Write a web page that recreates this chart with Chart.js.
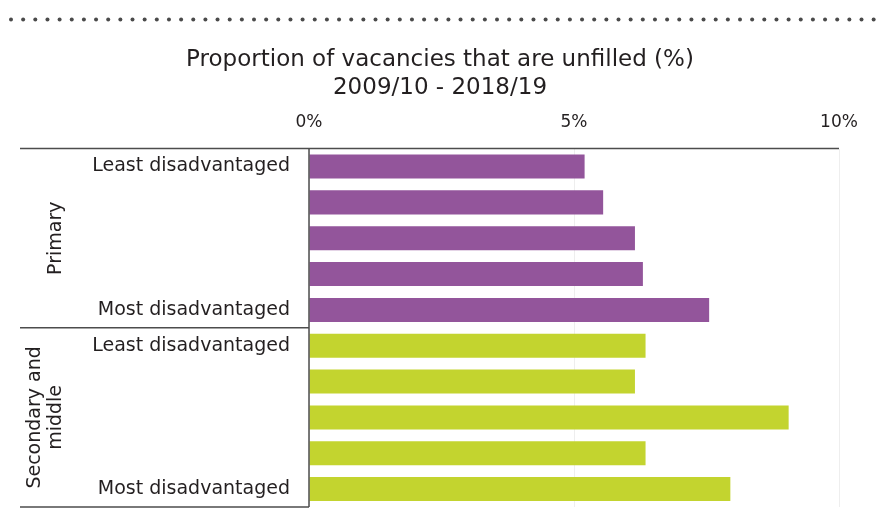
<!DOCTYPE html>
<html>
<head>
<meta charset="utf-8">
<script src="https://cdn.jsdelivr.net/npm/chart.js@4.4.1/dist/chart.umd.min.js"></script>
<style>
  html, body { margin: 0; padding: 0; background: #ffffff; }
  #wrap { width: 880px; height: 509px; }
</style>
</head>
<body>
<div id="wrap"><canvas id="vacancyChart" width="880" height="509"></canvas></div>
<script>
// school phase groups, top to bottom
const groups = ['Primary', ['Secondary and', 'middle']];
const groupColors = ['#93559b', '#c3d42f'];

// deprivation quintile labels (only the ends are labelled)
const quintiles = ['Least disadvantaged', '', '', '', 'Most disadvantaged'];

// proportion of vacancies unfilled (%), 2009/10 - 2018/19
const primaryValues = [5.2, 5.55, 6.15, 6.3, 7.55];
const secondaryValues = [6.35, 6.15, 9.05, 6.35, 7.95];

const xTicks = [0, 5, 10];

const labels = quintiles.concat(quintiles);
const values = primaryValues.concat(secondaryValues);
const colors = primaryValues.map(() => groupColors[0])
    .concat(secondaryValues.map(() => groupColors[1]));

const textColor = '#231f20';
const lineColor = '#4d4d4d';
const fontName = '"DejaVu Sans"';

// dotted rule, frame lines and rotated group names
const decorations = {
    id: 'decorations',
    beforeDraw(chart) {
        const c = chart.ctx;
        c.save();
        c.fillStyle = '#4a4a4a';
        for (let x = 11; x < 876; x += 12.15) {
            c.beginPath();
            c.arc(x, 19.5, 2, 0, Math.PI * 2);
            c.fill();
        }
        c.restore();
    },
    afterDraw(chart) {
        const c = chart.ctx;
        const area = chart.chartArea;
        const y = chart.scales.y;
        const left = 20;
        const top = area.top;
        const bottom = area.bottom;
        const split = (y.getPixelForValue(4) + y.getPixelForValue(5)) / 2;

        c.save();
        c.strokeStyle = lineColor;
        c.lineWidth = 1.5;
        c.beginPath();
        c.moveTo(left, top); c.lineTo(area.right, top);
        c.moveTo(left, split); c.lineTo(area.left, split);
        c.moveTo(left, bottom); c.lineTo(area.left, bottom);
        c.moveTo(area.left, top); c.lineTo(area.left, bottom);
        c.stroke();

        c.fillStyle = textColor;
        c.font = '19px ' + fontName;
        c.textAlign = 'center';
        c.textBaseline = 'middle';
        groups.forEach((g, i) => {
            const mid = (y.getPixelForValue(i * 5) + y.getPixelForValue(i * 5 + 4)) / 2;
            const lines = Array.isArray(g) ? g : [g];
            lines.forEach((t, j) => {
                const x = 56 - (lines.length - 1 - j) * 21;
                c.save();
                c.translate(x, mid);
                c.rotate(-Math.PI / 2);
                c.fillText(t, 0, 0);
                c.restore();
            });
        });
        c.restore();
    }
};

const ctx = document.getElementById('vacancyChart').getContext('2d');

new Chart(ctx, {
    type: 'bar',
    data: {
        labels: labels,
        datasets: [{
            data: values,
            backgroundColor: colors,
            borderWidth: 0,
            barPercentage: 0.67,
            categoryPercentage: 1
        }]
    },
    options: {
        indexAxis: 'y',
        responsive: false,
        animation: false,
        layout: {
            padding: { left: 0, right: 0, top: 0, bottom: 2 }
        },
        plugins: {
            legend: { display: false },
            tooltip: { enabled: false },
            title: {
                display: true,
                text: ['Proportion of vacancies that are unfilled (%)', '2009/10 - 2018/19'],
                color: textColor,
                font: { family: fontName, size: 23, weight: 'normal', lineHeight: 1.22 },
                padding: { top: 46, bottom: 0 }
            }
        },
        scales: {
            x: {
                position: 'top',
                min: 0,
                max: 10,
                afterBuildTicks(scale) {
                    scale.ticks = xTicks.map(v => ({ value: v }));
                },
                afterFit(scale) {
                    scale.height = 46.5;
                    scale.paddingRight = 41;
                },
                ticks: {
                    color: textColor,
                    padding: 16,
                    font: { family: fontName, size: 17 },
                    callback: v => v + '%'
                },
                grid: {
                    color: '#eeeeee',
                    drawTicks: false
                },
                border: { display: false }
            },
            y: {
                afterFit(scale) {
                    scale.width = 309;
                    scale.paddingTop = 0;
                    scale.paddingBottom = 0;
                },
                ticks: {
                    color: textColor,
                    padding: 19,
                    autoSkip: false,
                    font: { family: fontName, size: 19 }
                },
                grid: { display: false, drawTicks: false },
                border: { display: false }
            }
        }
    },
    plugins: [decorations]
});
</script>
</body>
</html>
